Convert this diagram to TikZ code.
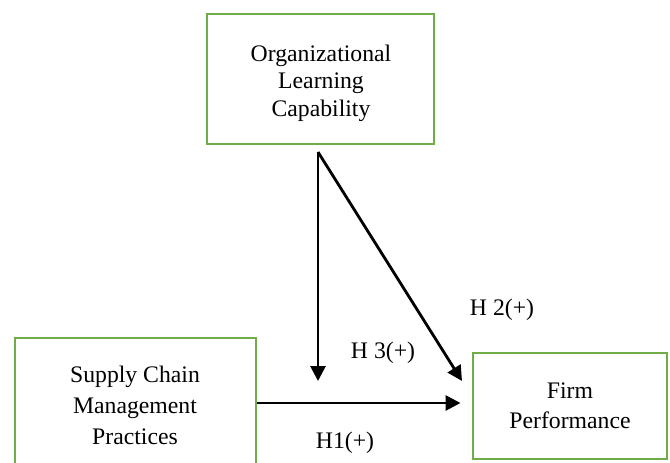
\documentclass[tikz,border=0pt]{standalone}
\usepackage{fontspec}
\setmainfont{Liberation Serif}
\usetikzlibrary{arrows.meta,positioning,shapes}
\definecolor{boxgreen}{HTML}{70AD47}

\begin{document}
\begin{tikzpicture}[x=0.02cm,y=-0.02cm,
  var/.style={draw=boxgreen,line width=1.7pt,align=center,inner sep=0pt,
    font=\fontsize{13.5}{16}\selectfont},
  hyp/.style={font=\fontsize{13.5}{16}\selectfont},
  link/.style={-{Triangle[length=8.5pt,width=8.5pt]},line width=1.6pt}]
\useasboundingbox (0,0) rectangle (670,463);
\clip (0,0) rectangle (670,463);
\node[var,minimum width=227*0.02cm,minimum height=130*0.02cm] (olc) at (320.5,79) {};
\node[align=center,font=\fontsize{13.5}{15.6}\selectfont] (olctext) at (321,83) {Organizational\\Learning\\Capability};
\node[var,minimum width=241*0.02cm,minimum height=132*0.02cm] (scm) at (135.5,404) {};
\node[align=center,font=\fontsize{13.5}{17.6}\selectfont] (scmtext) at (135,405) {Supply Chain\\Management\\Practices};
\node[var,minimum width=194*0.02cm,minimum height=106*0.02cm,
  font=\fontsize{13.5}{17}\selectfont] (fp) at (570,406) {Firm\\Performance};
\coordinate (src) at (318,152);
\coordinate (mod) at (318,381);
\coordinate (h2end) at (462,381);
\draw[link] (src) -- (mod);
\draw[link] (src) -- (h2end);
\draw[link] (scm.east |- 0,403) -- (fp.west |- 0,403) [shorten >=11*0.02cm];
\node[hyp] (h2) at (502,310) {H 2(+)};
\node[hyp] (h3) at (383,353) {H 3(+)};
\node[hyp] (h1) at (345,443) {H1(+)};
\end{tikzpicture}
\end{document}
